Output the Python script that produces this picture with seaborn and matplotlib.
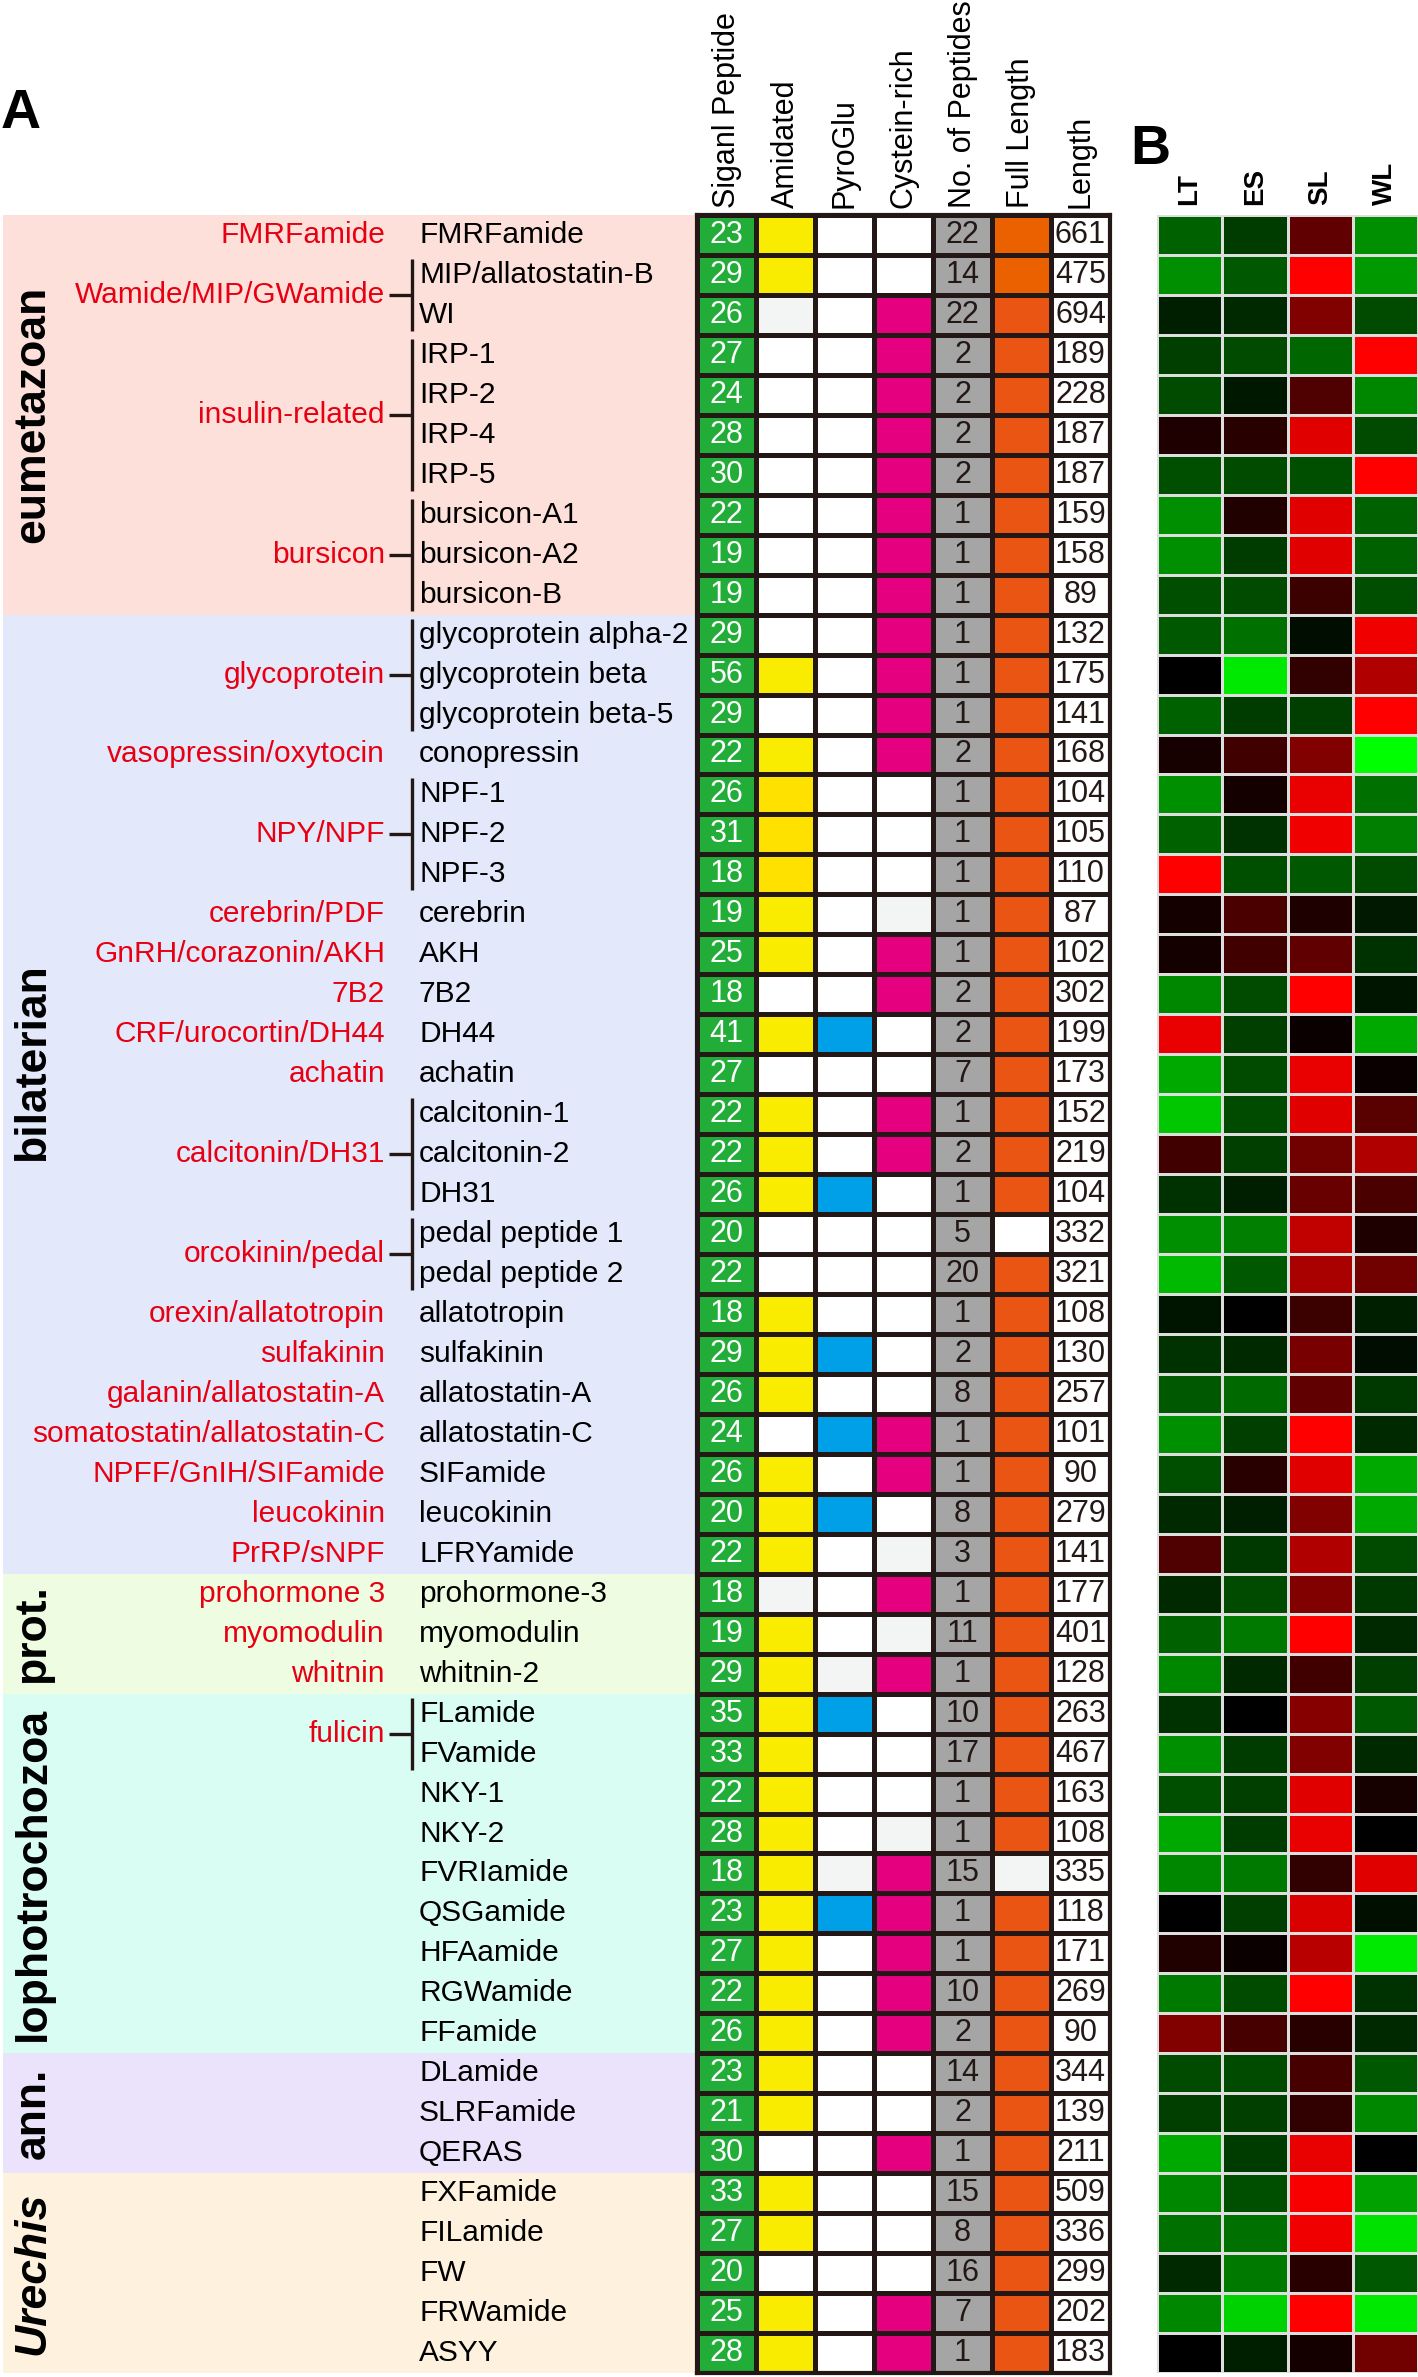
import itertools
import numpy as np
import pandas as pd
import matplotlib.pyplot as plt
import seaborn as sns
from matplotlib.colors import ListedColormap, LinearSegmentedColormap

plt.rcParams['font.family'] = ['Liberation Sans', 'DejaVu Sans']

# ---------------------------------------------------------------- data
clades       = ['eumetazoan', 'bilaterian', 'prot.', 'lophotrochozoa', 'ann.', 'Urechis']
clade_sizes  = [10, 24, 3, 9, 3, 5]
clade_colors = ['#fde0da', '#e3e8fb', '#eefde1', '#dafdf3', '#ebe3fb', '#fef1de']

peptides = ['FMRFamide', 'MIP/allatostatin-B', 'WI', 'IRP-1', 'IRP-2', 'IRP-4', 'IRP-5',
            'bursicon-A1', 'bursicon-A2', 'bursicon-B', 'glycoprotein alpha-2',
            'glycoprotein beta', 'glycoprotein beta-5', 'conopressin', 'NPF-1', 'NPF-2',
            'NPF-3', 'cerebrin', 'AKH', '7B2', 'DH44', 'achatin', 'calcitonin-1',
            'calcitonin-2', 'DH31', 'pedal peptide 1', 'pedal peptide 2', 'allatotropin',
            'sulfakinin', 'allatostatin-A', 'allatostatin-C', 'SIFamide', 'leucokinin',
            'LFRYamide', 'prohormone-3', 'myomodulin', 'whitnin-2', 'FLamide', 'FVamide',
            'NKY-1', 'NKY-2', 'FVRIamide', 'QSGamide', 'HFAamide', 'RGWamide', 'FFamide',
            'DLamide', 'SLRFamide', 'QERAS', 'FXFamide', 'FILamide', 'FW', 'FRWamide', 'ASYY']

families = (['FMRFamide'] + ['Wamide/MIP/GWamide'] * 2 + ['insulin-related'] * 4
            + ['bursicon'] * 3 + ['glycoprotein'] * 3 + ['vasopressin/oxytocin']
            + ['NPY/NPF'] * 3 + ['cerebrin/PDF', 'GnRH/corazonin/AKH', '7B2',
               'CRF/urocortin/DH44', 'achatin'] + ['calcitonin/DH31'] * 3
            + ['orcokinin/pedal'] * 2 + ['orexin/allatotropin', 'sulfakinin',
               'galanin/allatostatin-A', 'somatostatin/allatostatin-C',
               'NPFF/GnIH/SIFamide', 'leucokinin', 'PrRP/sNPF', 'prohormone 3',
               'myomodulin', 'whitnin'] + ['fulicin'] * 2 + [''] * 15)

# table A
columns = ['Siganl Peptide', 'Amidated', 'PyroGlu', 'Cystein-rich',
           'No. of Peptides', 'Full Length', 'Length']
signal = [23, 29, 26, 27, 24, 28, 30, 22, 19, 19,
          29, 56, 29, 22, 26, 31, 18, 19, 25, 18,
          41, 27, 22, 22, 26, 20, 22, 18, 29, 26,
          24, 26, 20, 22, 18, 19, 29, 35, 33, 22,
          28, 18, 23, 27, 22, 26, 23, 21, 30, 33,
          27, 20, 25, 28]
n_peptides = [22, 14, 22, 2, 2, 2, 2, 1, 1, 1,
              1, 1, 1, 2, 1, 1, 1, 1, 1, 2,
              2, 7, 1, 2, 1, 5, 20, 1, 2, 8,
              1, 1, 8, 3, 1, 11, 1, 10, 17, 1,
              1, 15, 1, 1, 10, 2, 14, 2, 1, 15,
              8, 16, 7, 1]
length = [661, 475, 694, 189, 228, 187, 187, 159, 158, 89,
          132, 175, 141, 168, 104, 105, 110, 87, 102, 302,
          199, 173, 152, 219, 104, 332, 321, 108, 130, 257,
          101, 90, 279, 141, 177, 401, 128, 263, 467, 163,
          108, 335, 118, 171, 269, 90, 344, 139, 211, 509,
          336, 299, 202, 183]
# cell states: w white, o off-white, y yellow, g gold, b blue, m magenta, r/R orange
amidated    = 'yyowwwwwww' 'wywygggyyw' 'ywyyywwyyy' 'wyyyoyyyyy' 'yyyyyyyywy' 'ywyy'
pyroglu     = 'wwwwwwwwww' 'wwwwwwwwww' 'bwwwbwwwbw' 'bwbwwwobww' 'wobwwwwwww' 'wwww'
cystein     = 'wwmmmmmmmm' 'mmmmwwwomm' 'wwmmwwwwww' 'mmwomomwww' 'ommmmmwwmw' 'wwmm'
full_length = 'RRrrrrrrrr' 'rrrrrrrrrr' 'rrrrrwrrrr' 'rrrrrrrrrr' 'rorrrrrrrr' 'rrrr'

cell_colors = {'w': '#ffffff', 'o': '#f3f5f5', 'G': '#22ac38', 'y': '#f9ec00',
               'g': '#ffe100', 'b': '#00a0e9', 'm': '#e4007f', 'k': '#a5a5a5',
               'r': '#ea5514', 'R': '#eb6100'}

# heatmap B (green = low, red = high)
tissues = ['LT', 'ES', 'SL', 'WL']
LT = [-0.38, -0.56, -0.12, -0.25, -0.29, 0.12, -0.31, -0.56, -0.56, -0.31,
      -0.35, 0.0, -0.38, 0.09, -0.56, -0.38, 1.0, 0.08, 0.08, -0.53,
      0.91, -0.66, -0.78, 0.25, -0.19, -0.56, -0.72, -0.08, -0.19, -0.35,
      -0.56, -0.31, -0.16, 0.31, -0.16, -0.38, -0.53, -0.19, -0.56, -0.31,
      -0.66, -0.53, 0.0, 0.13, -0.47, 0.5, -0.29, -0.25, -0.66, -0.53,
      -0.44, -0.16, -0.53, 0.0]
ES = [-0.23, -0.35, -0.16, -0.29, -0.09, 0.16, -0.29, 0.13, -0.23, -0.29,
      -0.44, -0.91, -0.23, 0.25, 0.08, -0.19, -0.31, 0.29, 0.25, -0.29,
      -0.25, -0.29, -0.29, -0.25, -0.12, -0.5, -0.35, 0.0, -0.16, -0.41,
      -0.25, 0.16, -0.12, -0.22, -0.29, -0.47, -0.16, 0.0, -0.23, -0.25,
      -0.23, -0.47, -0.25, 0.04, -0.29, 0.28, -0.29, -0.25, -0.23, -0.31,
      -0.44, -0.47, -0.82, -0.12]
SL = [0.38, 1.0, 0.5, -0.4, 0.31, 0.88, -0.31, 0.88, 0.88, 0.23,
      -0.05, 0.19, -0.25, 0.5, 0.91, 0.94, -0.35, 0.12, 0.38, 1.0,
      0.04, 0.91, 0.88, 0.44, 0.41, 0.75, 0.66, 0.23, 0.47, 0.38,
      1.0, 0.88, 0.5, 0.69, 0.5, 1.0, 0.25, 0.53, 0.5, 0.88,
      0.91, 0.19, 0.85, 0.72, 1.0, 0.16, 0.28, 0.19, 0.91, 0.97,
      0.94, 0.16, 1.0, 0.08]
WL = [-0.56, -0.6, -0.29, 1.0, -0.53, -0.29, 1.0, -0.38, -0.38, -0.31,
      0.94, 0.69, 1.0, -1.0, -0.44, -0.5, -0.29, -0.1, -0.19, -0.08,
      -0.66, 0.04, 0.35, 0.69, 0.29, 0.12, 0.44, -0.12, -0.05, -0.22,
      -0.16, -0.66, -0.66, -0.29, -0.22, -0.16, -0.25, -0.35, -0.16, 0.09,
      0.0, 0.88, -0.06, -0.91, -0.19, -0.16, -0.35, -0.53, 0.0, -0.63,
      -0.88, -0.35, -0.91, 0.44]

# ---------------------------------------------------------------- layout
W, H = 1418, 2377
top, bottom = 215, 2373
n = len(peptides)

def rect(x0, x1):
    return [x0 / W, 1 - bottom / H, (x1 - x0) / W, (bottom - top) / H]

fig = plt.figure(figsize=(W / 100, H / 100), dpi=100)
ax_lab = fig.add_axes(rect(0, 697))
ax_tab = fig.add_axes(rect(697, 1110))
ax_hm = fig.add_axes(rect(1157, 1418))

red = '#e60012'
ink = '#231815'

# ---------------------------------------------------------------- left labels
ax_lab.set_xlim(0, 697)
ax_lab.set_ylim(n, 0)
ax_lab.axis('off')

# clade name sits a bit above centre for bilaterian
label_shift = {'bilaterian': -0.8}

start = 0
for name, size, color in zip(clades, clade_sizes, clade_colors):
    ax_lab.axhspan(start, start + size, xmin=0.004, xmax=1, color=color, lw=0)
    ax_lab.text(33, start + size / 2 + label_shift.get(name, 0), name, rotation=90,
                ha='center', va='center', fontsize=32, fontweight='bold',
                fontstyle='italic' if name == 'Urechis' else 'normal')
    start += size

for i, p in enumerate(peptides):
    ax_lab.text(419, i + 0.5, p, ha='left', va='center', fontsize=21.5, color='black')

i0 = 0
for fam, grp in itertools.groupby(families):
    k = len(list(grp))
    if fam:
        yc = i0 + k / 2
        ax_lab.text(385, yc, fam, ha='right', va='center', fontsize=21.5, color=red)
        if k > 1:
            ax_lab.plot([412, 412], [i0 + 0.1, i0 + k - 0.1], color=ink, lw=2.4,
                        solid_capstyle='butt')
            ax_lab.plot([389, 412], [yc, yc], color=ink, lw=2.4, solid_capstyle='butt')
    i0 += k

# ---------------------------------------------------------------- table A
keys = list(cell_colors)
col_states = ['G' * n, amidated, pyroglu, cystein, 'k' * n, full_length, 'w' * n]
codes = np.array([[keys.index(c) for c in s] for s in col_states]).T
table_df = pd.DataFrame(codes, index=peptides, columns=columns)

sns.heatmap(table_df, ax=ax_tab, cmap=ListedColormap(list(cell_colors.values())),
            vmin=-0.5, vmax=len(keys) - 0.5, cbar=False, linewidths=2.2,
            linecolor=ink, xticklabels=columns, yticklabels=False)
for i in range(n):
    ax_tab.text(0.5, i + 0.5, signal[i], ha='center', va='center', fontsize=22, color='white')
    ax_tab.text(4.5, i + 0.5, n_peptides[i], ha='center', va='center', fontsize=22, color=ink)
    ax_tab.text(6.5, i + 0.5, length[i], ha='center', va='center', fontsize=22, color=ink)

ax_tab.tick_params(axis='x', top=True, labeltop=True, bottom=False, labelbottom=False,
                   length=0, pad=5, labelsize=22, labelrotation=90)
for s in ax_tab.spines.values():
    s.set_visible(True)
    s.set_linewidth(3)
    s.set_color(ink)

# ---------------------------------------------------------------- heatmap B
expr = pd.DataFrame({'LT': LT, 'ES': ES, 'SL': SL, 'WL': WL}, index=peptides)
gkr = LinearSegmentedColormap.from_list('gkr', ['#00ff00', '#000000', '#ff0000'])
sns.heatmap(expr[tissues], ax=ax_hm, cmap=gkr, vmin=-1, vmax=1, cbar=False,
            linewidths=2, linecolor='#dedede', xticklabels=tissues, yticklabels=False)
ax_hm.tick_params(axis='x', top=True, labeltop=True, bottom=False, labelbottom=False,
                  length=0, pad=7, labelsize=20, labelrotation=90)
for t in ax_hm.get_xticklabels():
    t.set_fontweight('bold')

# panel letters
fig.text(21 / W, 1 - 114 / H, 'A', fontsize=40, fontweight='bold', ha='center', va='center')
fig.text(1150 / W, 1 - 150 / H, 'B', fontsize=40, fontweight='bold', ha='center', va='center')

fig.savefig('out.png', dpi=100)
